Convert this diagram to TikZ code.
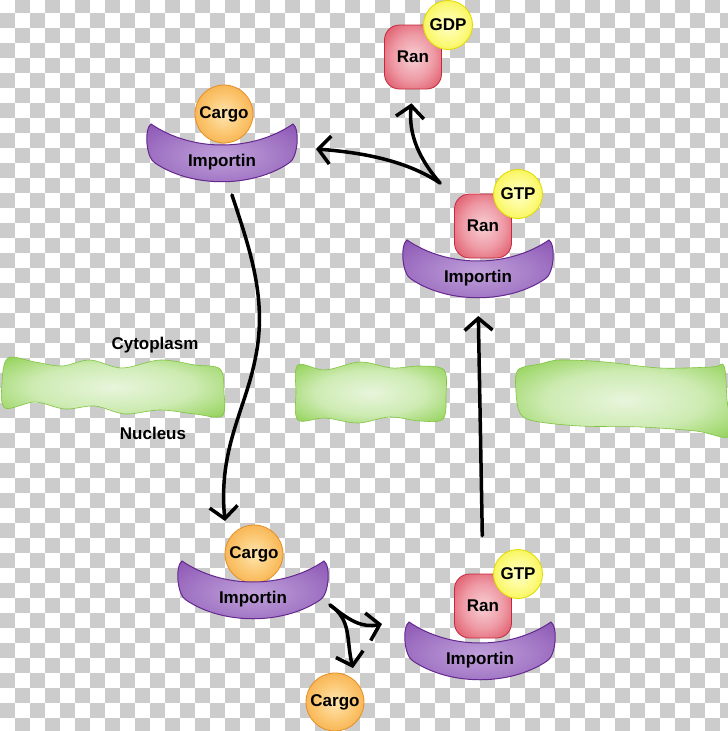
\documentclass[tikz,border=0pt]{standalone}
\usepackage{fontspec}
\setmainfont{Liberation Sans}
\usepackage{xcolor}
\usepackage{tikz}
\usetikzlibrary{arrows.meta}
\definecolor{checkgray}{HTML}{CCCCCC}
\definecolor{impinner}{HTML}{C0A0DA}
\definecolor{impmid}{HTML}{A57BC7}
\definecolor{impouter}{HTML}{8A52B3}
\definecolor{impedge}{HTML}{65288F}
\definecolor{cargoinner}{HTML}{FEE6B0}
\definecolor{cargomid}{HTML}{FBC46C}
\definecolor{cargoouter}{HTML}{F4A23A}
\definecolor{cargoedge}{HTML}{E58F22}
\definecolor{raninner}{HTML}{F8D0D5}
\definecolor{ranmid}{HTML}{EE9AA5}
\definecolor{ranouter}{HTML}{DD4A5C}
\definecolor{ranedge}{HTML}{C42A3E}
\definecolor{gtpinner}{HTML}{FFFFC8}
\definecolor{gtpmid}{HTML}{FCFA80}
\definecolor{gtpouter}{HTML}{F2EE2A}
\definecolor{gtpedge}{HTML}{E0DA00}
\definecolor{meminner}{HTML}{E8F5DC}
\definecolor{memmid}{HTML}{CDEBB2}
\definecolor{memouter}{HTML}{98D460}
\definecolor{memedge}{HTML}{80C440}
\pgfdeclareradialshading{cargoshade}{\pgfpointorigin}{color(0bp)=(cargoinner);
color(18bp)=(cargomid); color(36bp)=(cargoouter); color(50bp)=(cargoedge)}
\pgfdeclareradialshading{ranshade}{\pgfpointorigin}{color(0bp)=(raninner);
color(18bp)=(ranmid); color(36bp)=(ranouter); color(50bp)=(ranedge)}
\pgfdeclareradialshading{gtpshade}{\pgfpointorigin}{color(0bp)=(gtpinner);
color(18bp)=(gtpmid); color(36bp)=(gtpouter); color(50bp)=(gtpedge)}
\pgfdeclareradialshading{impshade}{\pgfpointorigin}{color(0bp)=(impinner);
color(18bp)=(impmid); color(36bp)=(impouter); color(50bp)=(impedge)}
\pgfdeclareradialshading{memshade}{\pgfpointorigin}{color(0bp)=(meminner);
color(18bp)=(memmid); color(32bp)=(memouter); color(50bp)=(memedge)}
\tikzstyle{molfont} = [font=\fontsize{17}{20}\selectfont\bfseries, text=black]
\tikzstyle{cargo} = [molfont, circle, minimum size=58pt, inner sep=0pt,
draw=cargoedge, line width=0.8pt, shade, shading=cargoshade]
\tikzstyle{ranbox} = [molfont, rectangle, rounded corners=15pt, minimum width=57pt,
minimum height=64pt, inner sep=0pt, draw=ranedge, line width=0.8pt, shade, shading=ranshade]
\tikzstyle{gtpball} = [molfont, circle, minimum size=49pt, inner sep=0pt,
draw=gtpedge, line width=0.8pt, shade, shading=gtpshade]
\tikzstyle{impshape} = [draw=impedge, line width=1pt, shade, shading=impshade]
\tikzstyle{imptext} = [molfont, inner sep=0pt]
\tikzstyle{membrane} = [draw=memedge, line width=0.6pt, shade, shading=memshade]
\tikzstyle{memtext} = [font=\fontsize{17}{20}\selectfont\bfseries, text=black]
\tikzstyle{flow} = [line width=3.5pt, line cap=round, -{Straight Barb[length=12pt,width=28pt]}]
\tikzset{pics/importin/.style={code={
    \path[impshape] (-71,-38) .. controls (-30,-10) and (30,-10) .. (71,-38)
        .. controls (78,-33) and (76,-4) .. (67,1)
        .. controls (30,26) and (-30,26) .. (-67,1)
        .. controls (-76,-4) and (-78,-33) .. (-71,-38) -- cycle;
    \node[imptext] (-t) at (0,0) {Importin};
    \coordinate (-s) at (0,20);
}}}
\begin{document}
\begin{tikzpicture}[x=1pt, y=-1pt]
    \useasboundingbox (0,0) rectangle (728,731);
    \clip (0,0) rectangle (728,731);
    \fill[white] (0,0) rectangle (728,731);
    % checker background
    \foreach \i in {0,...,48}{
        \foreach \j in {0,...,49}{
            \pgfmathtruncatemacro\odd{mod(\i+\j,2)}
            \ifnum\odd=1
                \fill[checkgray] (15*\i,15*\j-2) rectangle ++(15,15);
            \fi
        }
    }
    % membrane
    \path[membrane] plot[smooth cycle, tension=0.55] coordinates {(8,358) (35,362) (62,366)
        (90,360) (122,368) (160,360) (195,365) (220,369) (224,392) (222,416) (195,414)
        (160,410) (125,414) (95,406) (65,409) (35,402) (5,408) (2,383)};
    \path[membrane] plot[smooth cycle, tension=0.55] coordinates {(298,365) (325,370)
        (360,362) (392,368) (420,366) (444,370) (446,395) (443,419) (420,421) (390,417)
        (358,423) (325,418) (298,420) (296,392)};
    \path[membrane] plot[smooth cycle, tension=0.55] coordinates {(518,370) (540,364)
        (560,360) (605,362) (660,368) (712,367) (724,366) (727,400) (730,436) (696,431)
        (641,427) (580,426) (534,421) (520,413) (516,392)};
    \node[memtext] (cyto) at (155,345) {Cytoplasm};
    \node[memtext] (nucl) at (153,433) {Nucleus};
    % cytoplasm side
    \node[cargo] (cargoA) at (224,114) {Cargo};
    \pic (impA) at (222,162) {importin};
    \node[ranbox] (ranF) at (413,57) {Ran};
    \node[gtpball] (gdpF) at (448,25) {GDP};
    \node[ranbox] (ranB) at (483,226) {Ran};
    \node[gtpball] (gtpB) at (518,194) {GTP};
    \pic (impB) at (478,278) {importin};
    % nucleus side
    \node[cargo] (cargoC) at (254,554) {Cargo};
    \pic (impC) at (253,599) {importin};
    \node[ranbox] (ranD) at (483,606) {Ran};
    \node[gtpball] (gtpD) at (518,574) {GTP};
    \pic (impD) at (480,660) {importin};
    \node[cargo] (cargoE) at (335,702) {Cargo};
    % arrows
    \coordinate (dropA) at (232,195);
    \coordinate (intoC) at (225,521);
    \coordinate (forkC) at (440,183);
    \coordinate (backA) at (316,149);
    \coordinate (forkD) at (330,605);
    \coordinate (toD) at (382,624);
    \coordinate (dropE) at (353,668);
    \draw[flow] (dropA) .. controls (250,250) and (268,300) .. (255,360)
        .. controls (245,410) and (218,450) .. (intoC);
    \draw[flow, shorten <=38pt, shorten >=18pt] (ranD.north) -- (impB-s);
    \draw[flow] (forkC) .. controls (410,163) and (370,153) .. (backA);
    \draw[flow, shorten >=14pt] (forkC) .. controls (420,160) and (408,135) .. (ranF.south);
    \draw[flow] (forkD) .. controls (350,621) and (362,628) .. (toD);
    \draw[flow] (forkD) .. controls (352,620) and (346,640) .. (dropE);
\end{tikzpicture}
\end{document}
